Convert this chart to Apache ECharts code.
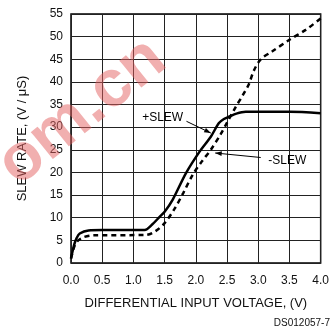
<!DOCTYPE html>
<html>
<head>
<meta charset="utf-8">
<script src="https://cdn.jsdelivr.net/npm/echarts@6/dist/echarts.min.js"></script>
<style>
  html, body { margin: 0; padding: 0; background: #fff; }
  #chart { width: 332px; height: 331px; }
</style>
</head>
<body>
<div id="chart"></div>
<script>
// values: [input voltage, slew rate]
const posSlew = [
  [0, 1], [0.05, 4], [0.09, 5.5], [0.14, 6.5], [0.28, 7.2], [0.5, 7.3],
  [1.18, 7.3], [1.3, 8.5], [1.42, 10.2], [1.5, 11.3], [1.63, 14], [1.84, 19.8],
  [2.06, 24.6], [2.24, 27.9], [2.37, 30.9], [2.45, 31.8], [2.53, 32.3],
  [2.65, 33], [2.8, 33.4], [3.0, 33.4], [3.5, 33.4], [4.0, 33.1]
]
const negSlew = [
  [0, 1], [0.05, 3.5], [0.1, 4.8], [0.2, 5.7], [0.35, 6.1], [1.2, 6.2],
  [1.35, 7], [1.5, 8.8], [1.66, 12], [1.8, 15.5], [1.95, 19.5], [2.1, 22.5],
  [2.24, 25], [2.4, 28.5], [2.5, 31], [2.64, 34.5], [2.75, 37], [2.85, 39.5],
  [2.93, 42.5], [3.04, 45], [3.22, 46.7], [3.5, 49.3], [3.76, 51.5], [4.0, 54]
]
const xTicks = [0, 0.5, 1, 1.5, 2, 2.5, 3, 3.5, 4]
const yTicks = [0, 5, 10, 15, 20, 25, 30, 35, 40, 45, 50, 55]

const font = 'Liberation Sans, Arial, sans-serif'
const chart = echarts.init(document.getElementById('chart'))

chart.setOption({
  animation: false,
  grid: {
    left: 71, right: 10, top: 14, bottom: 68,
    show: true, borderColor: '#000', borderWidth: 1.5
  },
  xAxis: {
    type: 'value',
    min: xTicks[0], max: xTicks[xTicks.length - 1], interval: 0.5,
    name: 'DIFFERENTIAL INPUT VOLTAGE, (V)',
    nameLocation: 'middle', nameGap: 34,
    nameTextStyle: { color: '#111', fontSize: 13, fontFamily: font },
    axisLine: { show: false },
    axisTick: { show: false },
    axisLabel: {
      color: '#111', fontSize: 12, fontFamily: font, margin: 12,
      formatter: (v) => v.toFixed(1)
    },
    splitLine: { show: true, lineStyle: { color: '#222', width: 1 } }
  },
  yAxis: {
    type: 'value',
    min: yTicks[0], max: yTicks[yTicks.length - 1], interval: 5,
    name: 'SLEW RATE, (V / \u03bcS)',
    nameLocation: 'middle', nameGap: 42, nameRotate: 90,
    nameTextStyle: { color: '#111', fontSize: 13, fontFamily: font },
    axisLine: { show: false },
    axisTick: { show: false },
    axisLabel: { color: '#111', fontSize: 12, fontFamily: font, margin: 8 },
    splitLine: { show: true, lineStyle: { color: '#222', width: 1 } }
  },
  series: [
    {
      name: '+SLEW', type: 'line', data: posSlew, showSymbol: false, smooth: 0.3,
      lineStyle: { color: '#000', width: 2.5 }
    },
    {
      name: '-SLEW', type: 'line', data: negSlew, showSymbol: false, smooth: 0.3,
      lineStyle: { color: '#000', width: 2.5, type: [5, 4] }
    }
  ]
})

// annotations placed in data coordinates
const px = (x, y) => chart.convertToPixel({ gridIndex: 0 }, [x, y])
const arrow = (from, to) => {
  const a = Math.atan2(to[1] - from[1], to[0] - from[0])
  const L = 7, W = 0.35
  return [
    { type: 'line', shape: { x1: from[0], y1: from[1], x2: to[0], y2: to[1] },
      style: { stroke: '#000', lineWidth: 1 } },
    { type: 'polygon', shape: { points: [
      to,
      [to[0] - L * Math.cos(a - W), to[1] - L * Math.sin(a - W)],
      [to[0] - L * Math.cos(a + W), to[1] - L * Math.sin(a + W)]
    ] }, style: { fill: '#000' } }
  ]
}
const p1 = px(1.14, 32.2), p1a = px(1.85, 31.3), p1b = px(2.24, 28.7)
const p2 = px(3.16, 22.7), p2a = px(3.04, 23.3), p2b = px(2.31, 24.3)

chart.setOption({
  graphic: [
    { type: 'text', x: p1[0], y: p1[1], style: { text: '+SLEW', fill: '#000', font: '12px ' + font, verticalAlign: 'middle' } },
    ...arrow(p1a, p1b),
    { type: 'text', x: p2[0], y: p2[1], style: { text: '-SLEW', fill: '#000', font: '12px ' + font, verticalAlign: 'middle' } },
    ...arrow(p2a, p2b),
    { type: 'text', right: 2, bottom: 3, style: { text: 'DS012057-7', fill: '#111', font: '10px ' + font } },
    { type: 'text', x: 82, y: 112, rotation: 0.68, z: 100,
      style: { text: 'om.cn', fill: 'rgba(228,95,95,0.5)', font: 'bold 66px ' + font,
        align: 'center', verticalAlign: 'middle' } }
  ]
})
</script>
</body>
</html>
